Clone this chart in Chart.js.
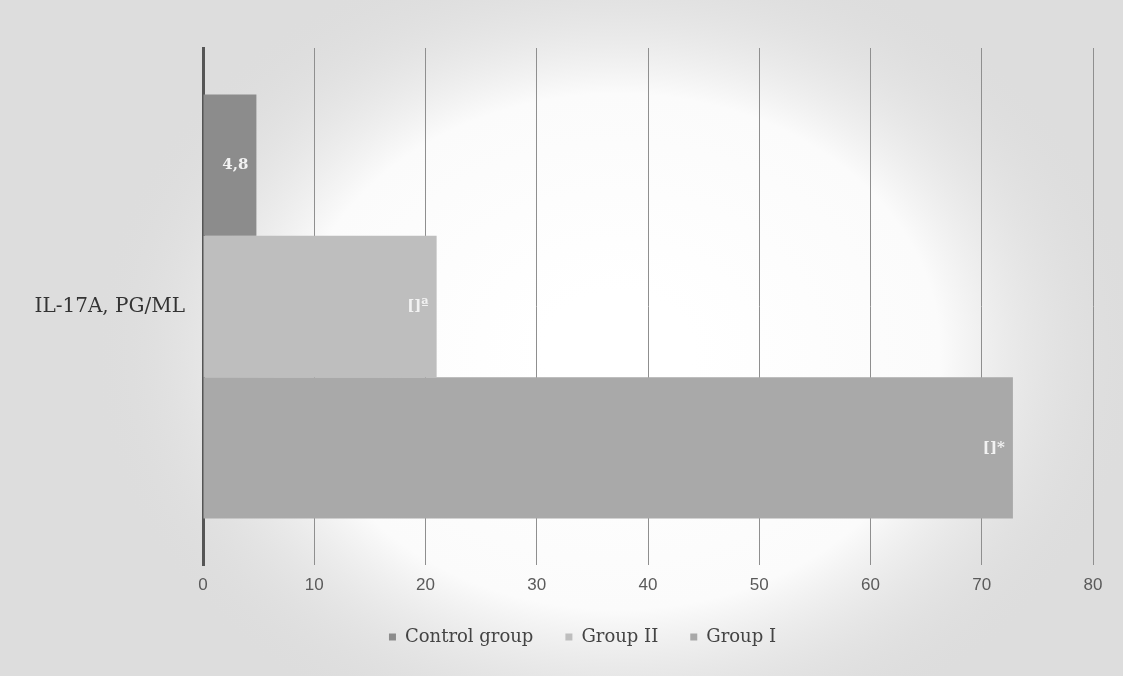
<!DOCTYPE html>
<html>
<head>
<meta charset="utf-8">
<title>IL-17A, PG/ML</title>
<script src="https://cdn.jsdelivr.net/npm/chart.js@4/dist/chart.umd.min.js"></script>
<style>
  html, body { margin: 0; padding: 0; background: #dcdcdc; }
  #wrap { position: relative; width: 1123px; height: 676px; }
</style>
</head>
<body>
<div id="wrap"><canvas id="chart"></canvas></div>
<script>
  // data
  var categories = ['IL-17A, PG/ML'];
  var seriesNames = ['Control group', 'Group II', 'Group I'];
  var controlValues = [4.8];
  var group2Values = [21];
  var group1Values = [72.8];
  var barLabels = ['4,8', '[]\u00aa', '[]*'];
  var xTicks = [0, 10, 20, 30, 40, 50, 60, 70, 80];

  var barColors = ['#8c8c8c', '#bebebe', '#a9a9a9'];

  // scanned-paper look: grey edges, white centre
  var paperBackground = {
    id: 'paperBackground',
    beforeDraw: function (chart) {
      var ctx = chart.ctx;
      var w = chart.width, h = chart.height;
      ctx.save();
      ctx.fillStyle = '#dddddd';
      ctx.fillRect(0, 0, w, h);
      ctx.translate(w * 0.55, h * 0.52);
      ctx.scale(1.25, 1);
      var g = ctx.createRadialGradient(0, 0, 60, 0, 0, 420);
      g.addColorStop(0, '#ffffff');
      g.addColorStop(0.55, '#fbfbfb');
      g.addColorStop(1, 'rgba(221,221,221,0)');
      ctx.fillStyle = g;
      ctx.beginPath();
      ctx.arc(0, 0, 420, 0, Math.PI * 2);
      ctx.fill();
      ctx.restore();
    }
  };

  // the legend sits a little right of centre in the original
  var legendShift = {
    id: 'legendShift',
    afterLayout: function (chart) {
      if (!chart.legend) return;
      chart.legend.left += 36;
      chart.legend.right += 36;
    }
  };

  // values printed inside the bar end
  var insideEndLabels = {
    id: 'insideEndLabels',
    afterDatasetsDraw: function (chart) {
      var ctx = chart.ctx;
      ctx.save();
      ctx.font = 'bold 15px "DejaVu Serif", serif';
      ctx.fillStyle = '#f2f2f2';
      ctx.textAlign = 'right';
      ctx.textBaseline = 'middle';
      chart.data.datasets.forEach(function (ds, i) {
        var bar = chart.getDatasetMeta(i).data[0];
        if (!bar) return;
        ctx.fillText(barLabels[i], bar.x - 8, bar.y);
      });
      ctx.restore();
    }
  };

  new Chart(document.getElementById('chart'), {
    type: 'bar',
    data: {
      labels: categories,
      datasets: [
        { label: seriesNames[0], data: controlValues, backgroundColor: barColors[0] },
        { label: seriesNames[1], data: group2Values, backgroundColor: barColors[1] },
        { label: seriesNames[2], data: group1Values, backgroundColor: barColors[2] }
      ]
    },
    options: {
      indexAxis: 'y',
      responsive: true,
      maintainAspectRatio: false,
      animation: false,
      categoryPercentage: 0.82,
      barPercentage: 1,
      layout: { padding: { top: 48, right: 30, bottom: 20, left: 0 } },
      scales: {
        x: {
          min: 0,
          max: 80,
          afterBuildTicks: function (scale) {
            scale.ticks = xTicks.map(function (v) { return { value: v }; });
          },
          afterFit: function (scale) { scale.height = 31; },
          border: { display: false },
          grid: { color: '#8f8f8f', lineWidth: 1, drawTicks: false },
          ticks: {
            padding: 10,
            color: '#5a5a5a',
            font: { family: '"Liberation Sans", sans-serif', size: 17 }
          }
        },
        y: {
          afterFit: function (scale) { scale.width = 203; },
          border: { display: true, color: '#555555', width: 3 },
          grid: { display: false, drawTicks: false },
          ticks: {
            padding: 18,
            color: '#333333',
            font: { family: '"DejaVu Serif", serif', size: 20 }
          }
        }
      },
      plugins: {
        legend: {
          position: 'bottom',
          labels: {
            boxWidth: 7,
            boxHeight: 7,
            padding: 32,
            color: '#444444',
            font: { family: '"DejaVu Serif", serif', size: 18 }
          }
        },
        tooltip: { enabled: false }
      }
    },
    plugins: [paperBackground, legendShift, insideEndLabels]
  });
</script>
</body>
</html>
